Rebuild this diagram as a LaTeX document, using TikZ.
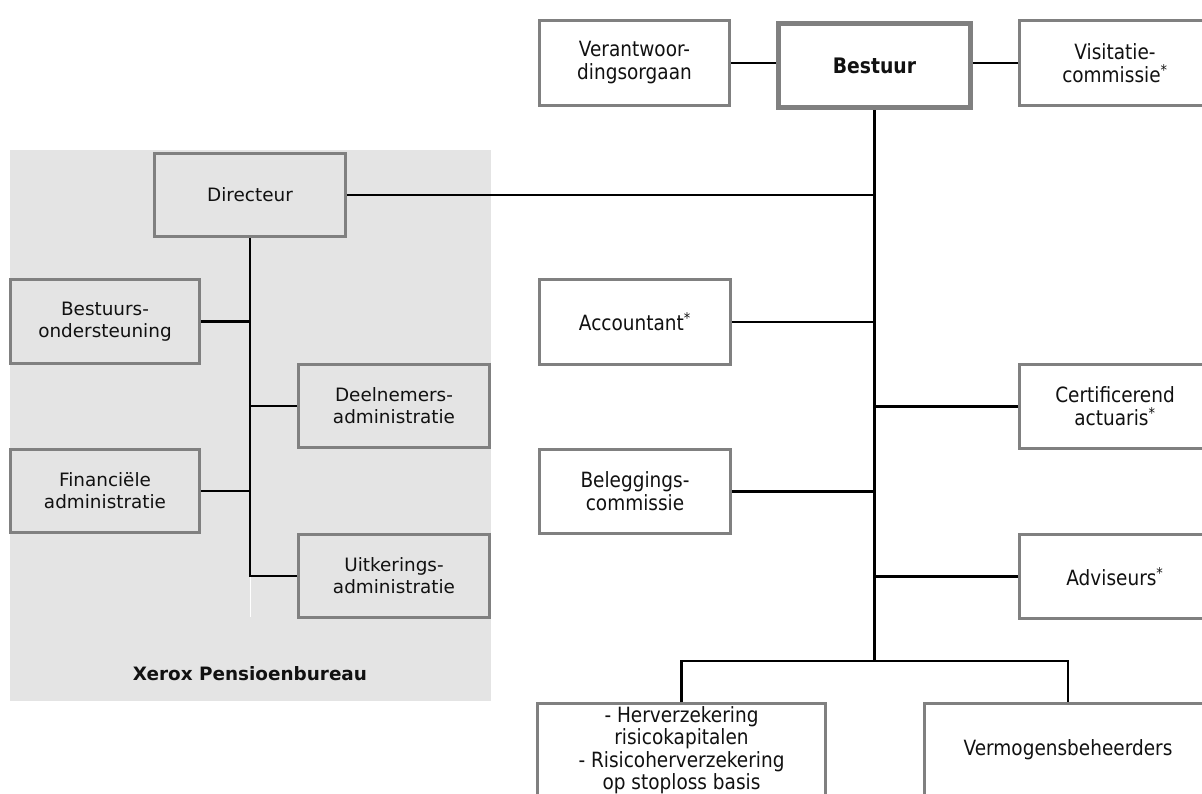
\documentclass[tikz,border=0pt]{standalone}
\usepackage{fontspec}
\setmainfont{DejaVu Sans}
\newfontfamily\condfont[FakeStretch=0.88]{DejaVu Sans}
\definecolor{bggray}{HTML}{E4E4E4}
\definecolor{boxgray}{HTML}{808080}
\definecolor{txt}{HTML}{111111}
\tikzset{
  lfont/.style={font=\fontsize{13.8pt}{16.5pt}\selectfont},
  rfont/.style={font=\condfont\fontsize{15.75pt}{17.25pt}\selectfont},
  lbox/.style={draw=boxgray, line width=2.25pt, fill=bggray, rectangle, inner sep=0pt,
    align=center, text=txt, lfont, minimum width=191*0.75pt, minimum height=83*0.75pt},
  rbox/.style={draw=boxgray, line width=2.25pt, fill=white, rectangle, inner sep=0pt,
    align=center, text=txt, rfont, minimum width=191*0.75pt, minimum height=84*0.75pt},
  conn/.style={draw=black, line width=2.1pt},
}
\begin{document}
\begin{tikzpicture}[x=0.75pt,y=-0.75pt]
\useasboundingbox (0,0) rectangle (1202,793);
\clip (0,0) rectangle (1202,793);
% background of the pension office
\fill[bggray] (10,150) rectangle (491,701);

% left nodes
\node[lbox] (dir) at (250,195) {Directeur};
\node[lbox, minimum width=189*0.75pt, minimum height=84*0.75pt] (bo) at (105,321.5) {Bestuurs-\\ondersteuning};
\node[lbox] (dn) at (394,406) {Deelnemers-\\administratie};
\node[lbox, minimum width=189*0.75pt] (fa) at (105,491) {Financiële\\administratie};
\node[lbox] (ua) at (394,576) {Uitkerings-\\administratie};
\node[lfont, font=\bfseries\fontsize{13.8pt}{16.5pt}\selectfont, text=txt] (xp) at (250,674) {Xerox Pensioenbureau};

% right nodes
\node[rbox, minimum width=190*0.75pt, minimum height=85*0.75pt] (va) at (634.5,63) {Verantwoor-\\dingsorgaan};
\node[rbox, line width=3.75pt, minimum width=192*0.75pt, minimum height=84*0.75pt,
      font=\condfont\bfseries\fontsize{16pt}{18pt}\selectfont] (be) at (874.5,65.5) {Bestuur};
\node[rbox, minimum height=85*0.75pt] (vc) at (1115,63) {Visitatie-\\commissie\textsuperscript{*}};
\node[rbox, minimum height=85*0.75pt] (ac) at (635,322) {Accountant\textsuperscript{*}};
\node[rbox] (ca) at (1115,406.5) {Certificerend\\actuaris\textsuperscript{*}};
\node[rbox] (bc) at (635,491.5) {Beleggings-\\commissie};
\node[rbox] (ad) at (1115,576.5) {Adviseurs\textsuperscript{*}};
\node[rbox, font=\condfont\fontsize{15.75pt}{16.9pt}\selectfont,
      minimum width=288*0.75pt, minimum height=93*0.75pt] (hv) at (681.5,750)
  {- Herverzekering\\risicokapitalen\\- Risicoherverzekering\\op stoploss basis};
\node[rbox, minimum width=287*0.75pt, minimum height=93*0.75pt] (vm) at (1068,750) {Vermogensbeheerders};

% coordinates
\coordinate (tb) at (874.5,661);
\coordinate (lt) at (250,577);

% right connectors
\draw[conn] (va.east) -- (va.east -| be.west);
\draw[conn] (vc.west -| be.east) -- (vc.west);
\draw[conn] (be.south) -- (tb);
\draw[conn] (dir.east) -- (dir.east -| be.south);
\draw[conn] (ac.east) -- (ac.east -| be.south);
\draw[conn] (ca.west) -- (ca.west -| be.south);
\draw[conn] (bc.east) -- (bc.east -| be.south);
\draw[conn] (ad.west) -- (ad.west -| be.south);
\draw[conn] (hv.north) |- (tb) -| (vm.north);

% left connectors
\draw[conn] (dir.south) -- (lt);
\draw[conn] (bo.east) -- (bo.east -| dir.south);
\draw[conn] (dn.west) -- (dn.west -| dir.south);
\draw[conn] (fa.east) -- (fa.east -| dir.south);
\draw[conn] (ua.west) -- (ua.west -| dir.south);
\draw[white, line width=0.75pt] (lt) -- ++(0,40);
\end{tikzpicture}
\end{document}
